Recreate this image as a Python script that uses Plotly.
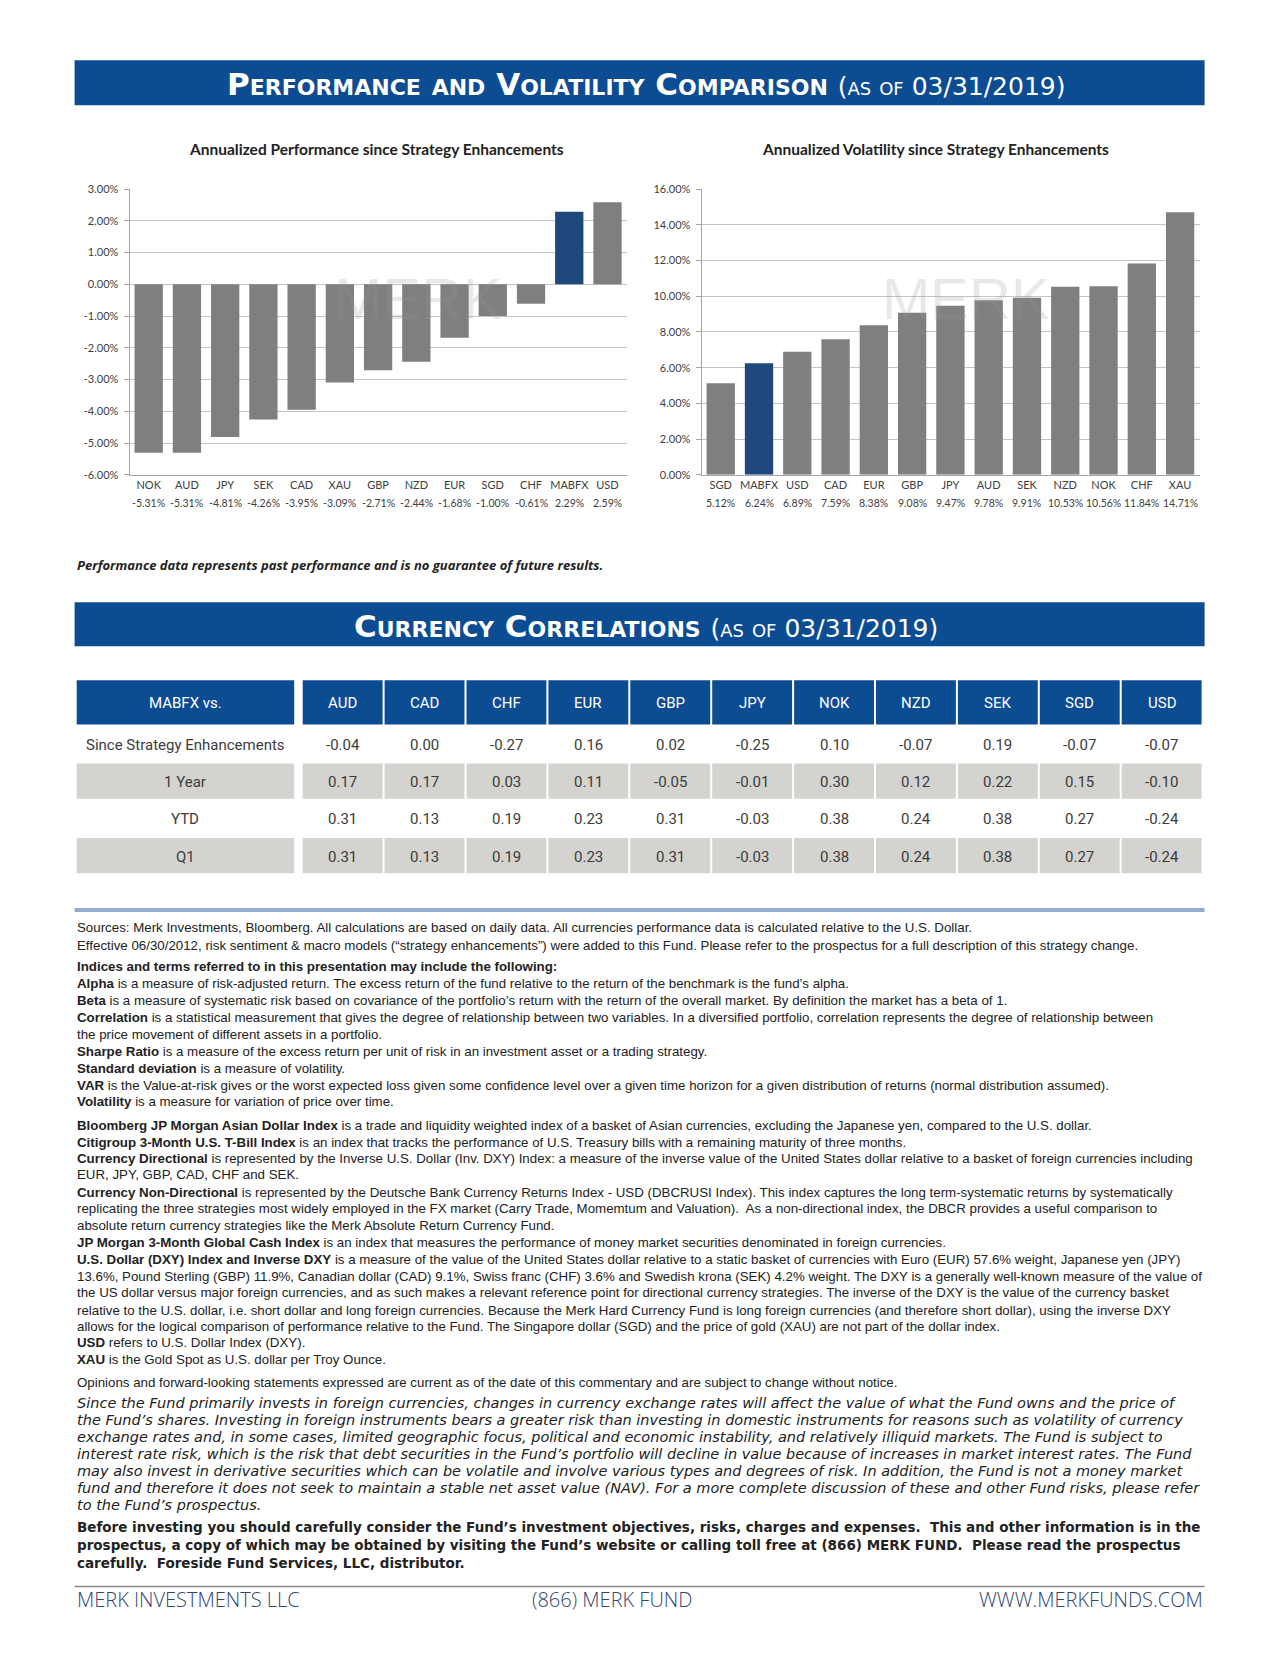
import plotly.graph_objects as go

W, H = 1280, 1656


def X(px):
    return px / W


def Y(py):
    return 1 - py / H


# ---------------- data ----------------
perf_currencies = ["NOK", "AUD", "JPY", "SEK", "CAD", "XAU", "GBP", "NZD", "EUR", "SGD", "CHF", "MABFX", "USD"]
perf_values = [-5.31, -5.31, -4.81, -4.26, -3.95, -3.09, -2.71, -2.44, -1.68, -1.00, -0.61, 2.29, 2.59]
perf_ticks = [-6, -5, -4, -3, -2, -1, 0, 1, 2, 3]

vol_currencies = ["SGD", "MABFX", "USD", "CAD", "EUR", "GBP", "JPY", "AUD", "SEK", "NZD", "NOK", "CHF", "XAU"]
vol_values = [5.12, 6.24, 6.89, 7.59, 8.38, 9.08, 9.47, 9.78, 9.91, 10.53, 10.56, 11.84, 14.71]
vol_ticks = [0, 2, 4, 6, 8, 10, 12, 14, 16]

corr_columns = ["AUD", "CAD", "CHF", "EUR", "GBP", "JPY", "NOK", "NZD", "SEK", "SGD", "USD"]
corr_periods = ["Since Strategy Enhancements", "1 Year", "YTD", "Q1"]
corr_since = [-0.04, 0.00, -0.27, 0.16, 0.02, -0.25, 0.10, -0.07, 0.19, -0.07, -0.07]
corr_1year = [0.17, 0.17, 0.03, 0.11, -0.05, -0.01, 0.30, 0.12, 0.22, 0.15, -0.10]
corr_ytd = [0.31, 0.13, 0.19, 0.23, 0.31, -0.03, 0.38, 0.24, 0.38, 0.27, -0.24]
corr_q1 = [0.31, 0.13, 0.19, 0.23, 0.31, -0.03, 0.38, 0.24, 0.38, 0.27, -0.24]

body_lines = [
    "Sources: Merk Investments, Bloomberg. All calculations are based on daily data. All currencies performance data is calculated relative to the U.S. Dollar.",
    "Effective 06/30/2012, risk sentiment &amp; macro models (\u201cstrategy enhancements\u201d) were added to this Fund. Please refer to the prospectus for a full description of this strategy change.",
    "<b>Indices and terms referred to in this presentation may include the following:</b>",
    "<b>Alpha</b> is a measure of risk-adjusted return. The excess return of the fund relative to the return of the benchmark is the fund\u2019s alpha.",
    "<b>Beta</b> is a measure of systematic risk based on covariance of the portfolio\u2019s return with the return of the overall market. By definition the market has a beta of 1.",
    "<b>Correlation</b> is a statistical measurement that gives the degree of relationship between two variables. In a diversified portfolio, correlation represents the degree of relationship between",
    "the price movement of different assets in a portfolio.",
    "<b>Sharpe Ratio</b> is a measure of the excess return per unit of risk in an investment asset or a trading strategy.",
    "<b>Standard deviation</b> is a measure of volatility.",
    "<b>VAR</b> is the Value-at-risk gives or the worst expected loss given some confidence level over a given time horizon for a given distribution of returns (normal distribution assumed).",
    "<b>Volatility</b> is a measure for variation of price over time.",
    "<b>Bloomberg JP Morgan Asian Dollar Index</b> is a trade and liquidity weighted index of a basket of Asian currencies, excluding the Japanese yen, compared to the U.S. dollar.",
    "<b>Citigroup 3-Month U.S. T-Bill Index</b> is an index that tracks the performance of U.S. Treasury bills with a remaining maturity of three months.",
    "<b>Currency Directional</b> is represented by the Inverse U.S. Dollar (Inv. DXY) Index: a measure of the inverse value of the United States dollar relative to a basket of foreign currencies including",
    "EUR, JPY, GBP, CAD, CHF and SEK.",
    "<b>Currency Non-Directional</b> is represented by the Deutsche Bank Currency Returns Index - USD (DBCRUSI Index). This index captures the long term-systematic returns by systematically",
    "replicating the three strategies most widely employed in the FX market (Carry Trade, Momemtum and Valuation).  As a non-directional index, the DBCR provides a useful comparison to",
    "absolute return currency strategies like the Merk Absolute Return Currency Fund.",
    "<b>JP Morgan 3-Month Global Cash Index</b> is an index that measures the performance of money market securities denominated in foreign currencies.",
    "<b>U.S. Dollar (DXY) Index and Inverse DXY</b> is a measure of the value of the United States dollar relative to a static basket of currencies with Euro (EUR) 57.6% weight, Japanese yen (JPY)",
    "13.6%, Pound Sterling (GBP) 11.9%, Canadian dollar (CAD) 9.1%, Swiss franc (CHF) 3.6% and Swedish krona (SEK) 4.2% weight. The DXY is a generally well-known measure of the value of",
    "the US dollar versus major foreign currencies, and as such makes a relevant reference point for directional currency strategies. The inverse of the DXY is the value of the currency basket",
    "relative to the U.S. dollar, i.e. short dollar and long foreign currencies. Because the Merk Hard Currency Fund is long foreign currencies (and therefore short dollar), using the inverse DXY",
    "allows for the logical comparison of performance relative to the Fund. The Singapore dollar (SGD) and the price of gold (XAU) are not part of the dollar index.",
    "<b>USD</b> refers to U.S. Dollar Index (DXY).",
    "<b>XAU</b> is the Gold Spot as U.S. dollar per Troy Ounce.",
    "Opinions and forward-looking statements expressed are current as of the date of this commentary and are subject to change without notice.",
]
body_y = [920, 938, 959, 976.5, 993.5, 1010.5, 1027.5, 1045, 1062, 1079, 1095,
          1119, 1136.5, 1152.5, 1168.5, 1187, 1203, 1220, 1237, 1254, 1271, 1288, 1305.5, 1321.5, 1338.5, 1355.5,
          1378]

risk_lines = [
    "Since the Fund primarily invests in foreign currencies, changes in currency exchange rates will affect the value of what the Fund owns and the price of",
    "the Fund\u2019s shares. Investing in foreign instruments bears a greater risk than investing in domestic instruments for reasons such as volatility of currency",
    "exchange rates and, in some cases, limited geographic focus, political and economic instability, and relatively illiquid markets. The Fund is subject to",
    "interest rate risk, which is the risk that debt securities in the Fund\u2019s portfolio will decline in value because of increases in market interest rates. The Fund",
    "may also invest in derivative securities which can be volatile and involve various types and degrees of risk. In addition, the Fund is not a money market",
    "fund and therefore it does not seek to maintain a stable net asset value (NAV). For a more complete discussion of these and other Fund risks, please refer",
    "to the Fund\u2019s prospectus.",
]
risk_y = [1399, 1416, 1433, 1450.5, 1467.5, 1484.5, 1501.5]

invest_lines = [
    "Before investing you should carefully consider the Fund\u2019s investment objectives, risks, charges and expenses.  This and other information is in the",
    "prospectus, a copy of which may be obtained by visiting the Fund\u2019s website or calling toll free at (866) MERK FUND.  Please read the prospectus",
    "carefully.  Foreside Fund Services, LLC, distributor.",
]
invest_y = [1524, 1542, 1560]

# ---------------- styles ----------------
HDR_BLUE = "#0c4c93"
BAR_GRAY = "#7f7f7f"
BAR_BLUE = "#1f497d"
ROW_GRAY = "#d4d3cf"
TXT = "#222222"
AX_FONT = dict(family="Lato", size=11, color="#404040")
VAL_FONT = dict(family="Lato", size=10.5, color="#404040")
LEFT, RIGHT = 66.6, 1196.6

fig = go.Figure()

perf_colors = [BAR_BLUE if c == "MABFX" else BAR_GRAY for c in perf_currencies]
vol_colors = [BAR_BLUE if c == "MABFX" else BAR_GRAY for c in vol_currencies]

fig.add_trace(go.Bar(x=perf_currencies, y=perf_values, marker=dict(color=perf_colors, line=dict(width=0)),
                     width=0.74, xaxis="x", yaxis="y", hoverinfo="x+y"))
fig.add_trace(go.Bar(x=vol_currencies, y=vol_values, marker=dict(color=vol_colors, line=dict(width=0)),
                     width=0.74, xaxis="x2", yaxis="y2", hoverinfo="x+y"))

# ---------------- axes ----------------
common_y = dict(showgrid=True, gridcolor="#c4c4c4", gridwidth=1, zeroline=False,
                showline=True, linecolor="#a6a6a6", linewidth=1,
                ticks="outside", ticklen=5, tickcolor="#a6a6a6", ticklabelstandoff=3,
                tickfont=AX_FONT, fixedrange=True)
common_x = dict(showgrid=False, zeroline=False, showline=True, linecolor="#a6a6a6", linewidth=1,
                ticks="", tickfont=AX_FONT, type="category", fixedrange=True)

PLOT_TOP, PLOT_BOT = 175.5, 463.4
fig.update_layout(
    width=W, height=H, margin=dict(l=0, r=0, t=0, b=0),
    paper_bgcolor="white", plot_bgcolor="white", showlegend=False,
    xaxis=dict(domain=[X(121.6), X(618.6)], anchor="y", **common_x),
    yaxis=dict(domain=[Y(PLOT_BOT), Y(PLOT_TOP)], anchor="x", range=[-6, 3],
               tickvals=perf_ticks, ticktext=[f"{t:.2f}%" for t in perf_ticks], **common_y),
    xaxis2=dict(domain=[X(693.6), X(1191.6)], anchor="y2", **common_x),
    yaxis2=dict(domain=[Y(PLOT_BOT), Y(PLOT_TOP)], anchor="x2", range=[0, 16],
                tickvals=vol_ticks, ticktext=[f"{t:.2f}%" for t in vol_ticks], **common_y),
)

# ---------------- shapes ----------------
shapes = [
    dict(type="rect", xref="paper", yref="paper", x0=X(LEFT), x1=X(RIGHT), y0=Y(91), y1=Y(45.7),
         fillcolor=HDR_BLUE, line=dict(width=0), layer="below"),
    dict(type="rect", xref="paper", yref="paper", x0=X(LEFT), x1=X(RIGHT), y0=Y(636.3), y1=Y(592),
         fillcolor=HDR_BLUE, line=dict(width=0), layer="below"),
    dict(type="line", xref="paper", yref="paper", x0=X(LEFT), x1=X(RIGHT), y0=Y(902), y1=Y(902),
         line=dict(color="#93acd0", width=4)),
    dict(type="line", xref="paper", yref="paper", x0=X(LEFT), x1=X(RIGHT), y0=Y(1584), y1=Y(1584),
         line=dict(color="#8a8a8a", width=1.5)),
]

ann = []


def add_text(text, px, py, xanchor="left", **font):
    f = dict(family="Lato", size=12, color=TXT)
    f.update(font)
    ann.append(dict(text=text, x=X(px), y=Y(py), xref="paper", yref="paper",
                    xanchor=xanchor, yanchor="middle", showarrow=False, font=f, align="left"))


# ---------------- correlation table (cells laid out from the data arrays) ----------------
T_TOP, HDR_H = 670.5, 44.5
ROW0, ROW_H, GAP = 717.0, 37.5, 2.0
LAB_X0, LAB_X1 = 68.7, 286.2
COL_X0, COL_X1 = 294.7, 1195.6
col_w = (COL_X1 - COL_X0) / len(corr_columns)
row_fill = ["white", ROW_GRAY, "white", ROW_GRAY]
corr_rows = [corr_since, corr_1year, corr_ytd, corr_q1]
HDR_FONT = dict(family="Roboto", size=15, color="white")
CELL_FONT = dict(family="Roboto", size=15, color="#3c3c3c")


def cell(x0, x1, y0, y1, color, text, font):
    shapes.append(dict(type="rect", xref="paper", yref="paper", x0=X(x0), x1=X(x1), y0=Y(y1), y1=Y(y0),
                       fillcolor=color, line=dict(width=0), layer="below"))
    add_text(text, (x0 + x1) / 2, (y0 + y1) / 2 + 1, xanchor="center", **font)


cell(LAB_X0, LAB_X1, T_TOP, T_TOP + HDR_H, HDR_BLUE, "MABFX vs.", HDR_FONT)
for j, name in enumerate(corr_columns):
    cell(COL_X0 + j * col_w, COL_X0 + (j + 1) * col_w - GAP, T_TOP, T_TOP + HDR_H, HDR_BLUE, name, HDR_FONT)
for i, (period, row) in enumerate(zip(corr_periods, corr_rows)):
    y0 = ROW0 + i * ROW_H
    y1 = y0 + ROW_H - GAP
    cell(LAB_X0, LAB_X1, y0, y1, row_fill[i], period, CELL_FONT)
    for j, v in enumerate(row):
        cell(COL_X0 + j * col_w, COL_X0 + (j + 1) * col_w - GAP, y0, y1, row_fill[i], f"{v:.2f}", CELL_FONT)

fig.update_layout(shapes=shapes)

# ---------------- annotations ----------------
add_text("<b>Performance and Volatility Comparison</b> <span style='font-size:25px'>(as of 03/31/2019)</span>",
         638, 69.5, xanchor="center", family="DejaVu Sans", size=31, color="white", variant="small-caps")
add_text("<b>Currency Correlations</b> <span style='font-size:25px'>(as of 03/31/2019)</span>",
         638, 615.5, xanchor="center", family="DejaVu Sans", size=31, color="white", variant="small-caps")

add_text("<b>Annualized Performance since Strategy Enhancements</b>", 368.6, 135.5, xanchor="center", size=15.5)
add_text("<b>Annualized Volatility since Strategy Enhancements</b>", 927.6, 135.5, xanchor="center", size=15.5)

# watermark
for px in (410, 958):
    add_text("MERK", px, 286, xanchor="center", family="Liberation Sans", size=58,
             color="rgba(150,150,150,0.22)")

# value rows under the bar charts
for c, v in zip(perf_currencies, perf_values):
    ann.append(dict(text=f"{v:.2f}%", x=c, xref="x", y=Y(492), yref="paper", showarrow=False,
                    xanchor="center", yanchor="middle", font=VAL_FONT))
for c, v in zip(vol_currencies, vol_values):
    ann.append(dict(text=f"{v:.2f}%", x=c, xref="x2", y=Y(492), yref="paper", showarrow=False,
                    xanchor="center", yanchor="middle", font=VAL_FONT))

add_text("<b><i>Performance data represents past performance and is no guarantee of future results.</i></b>",
         LEFT, 554.8, family="Open Sans", size=13)

for t, py in zip(body_lines, body_y):
    add_text(t, LEFT, py, family="Liberation Sans", size=13.3)
for t, py in zip(risk_lines, risk_y):
    add_text(f"<i>{t}</i>", LEFT, py, family="DejaVu Sans", size=14.5)
for t, py in zip(invest_lines, invest_y):
    add_text(f"<b>{t}</b>", LEFT, py, family="DejaVu Sans", size=13.5)

FOOT = dict(family="Open Sans", size=20, color="#34466e", weight=300)
add_text("MERK INVESTMENTS LLC", LEFT, 1597.5, **FOOT)
add_text("(866) MERK FUND", 603.6, 1597.5, xanchor="center", **FOOT)
add_text("WWW.MERKFUNDS.COM", RIGHT, 1597.5, xanchor="right", **FOOT)

fig.update_layout(annotations=ann)

fig.write_html("out.html")
